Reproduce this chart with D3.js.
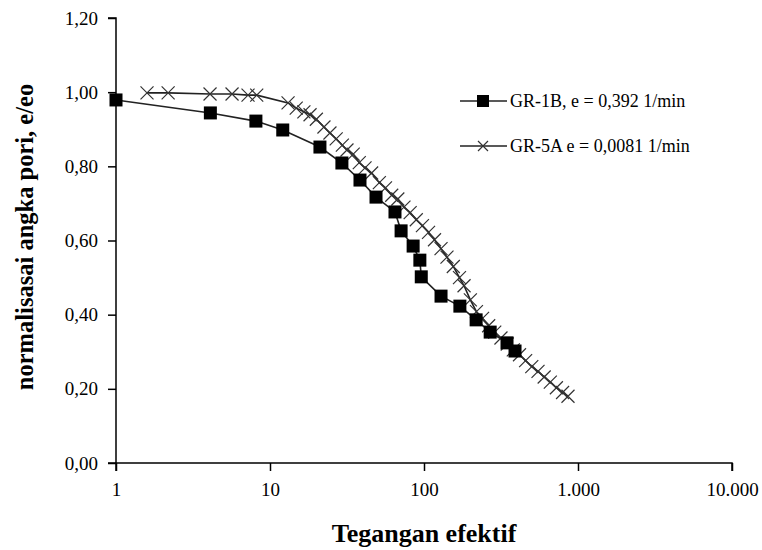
<!DOCTYPE html>
<html lang="id">
<head>
<meta charset="UTF-8">
<title>Tegangan efektif vs e/eo</title>
<style>
body { margin: 0; background: #fff; }
svg { display: block; }
.axis path, .axis line { stroke: #000; stroke-width: 1.5px; }
.axis text { font-family: "Liberation Serif", "Times New Roman", serif; font-size: 19px; fill: #000; }
</style>
</head>
<body>
<svg id="chart" width="762" height="550"></svg>
<script src="https://cdn.jsdelivr.net/npm/d3@7"></script>
<script>
// GR-1B (square markers)
var gr1bStress = [1, 4.1, 8.1, 12.1, 21.1, 29.3, 38.4, 48.8, 64.8, 71, 85, 94, 96, 129, 171, 218, 269, 346, 390];
var gr1bRatio = [0.979, 0.944, 0.922, 0.898, 0.852, 0.809, 0.763, 0.717, 0.677, 0.626, 0.585, 0.547, 0.502, 0.450, 0.423, 0.386, 0.353, 0.324, 0.302];

// GR-5A (cross markers)
var gr5aStress = [1.59, 2.18, 4.08, 5.67, 7.2, 8.2, 13.1, 14.8, 16.6, 18.2, 20.0, 22.4, 24.5, 26.9, 29.5, 31.6,
  34.7, 38.0, 41.4, 45.7, 51.3, 56.2, 61.7, 67.6, 74.1, 81.3, 89.1, 97.7, 107, 117, 129, 141, 155, 170, 182,
  200, 219, 240, 263, 288, 316, 347, 380, 417, 457, 501, 550, 603, 661, 724, 794, 861];
var gr5aRatio = [0.998, 0.998, 0.995, 0.995, 0.992, 0.992, 0.971, 0.957, 0.947, 0.939, 0.927, 0.906, 0.890, 0.874, 0.857, 0.844,
  0.833, 0.810, 0.796, 0.782, 0.756, 0.742, 0.722, 0.712, 0.690, 0.675, 0.656, 0.640, 0.622, 0.602, 0.578, 0.555, 0.530, 0.500, 0.478,
  0.440, 0.408, 0.390, 0.370, 0.353, 0.337, 0.321, 0.305, 0.292, 0.276, 0.260, 0.247, 0.232, 0.218, 0.203, 0.190, 0.180];

var xTicks = [1, 10, 100, 1000, 10000];
var xTickLabels = ["1", "10", "100", "1.000", "10.000"];
var yTicks = [0, 0.2, 0.4, 0.6, 0.8, 1.0, 1.2];
var yTickLabels = ["0,00", "0,20", "0,40", "0,60", "0,80", "1,00", "1,20"];

var legendLabels = ["GR-1B, e = 0,392 1/min", "GR-5A e = 0,0081 1/min"];

var svg = d3.select("#chart");

var x = d3.scaleLog().domain([1, 10000]).range([116, 732]);
var y = d3.scaleLinear().domain([0, 1.2]).range([463, 18]);

// axes
svg.append("g")
  .attr("class", "axis")
  .attr("transform", "translate(0,463)")
  .call(d3.axisBottom(x).tickValues(xTicks).tickSize(8).tickPadding(12)
    .tickFormat(function(d, i) { return xTickLabels[i]; }))
  .call(function(g) { g.select(".domain").attr("d", "M116,8V0H732V8"); });

svg.append("g")
  .attr("class", "axis")
  .attr("transform", "translate(116,0)")
  .call(d3.axisLeft(y).tickValues(yTicks).tickSize(8).tickPadding(10)
    .tickFormat(function(d, i) { return yTickLabels[i]; }))
  .call(function(g) { g.select(".domain").attr("d", "M-8,18H0V463H-8"); });

var line = d3.line()
  .x(function(d) { return x(d[0]); })
  .y(function(d) { return y(d[1]); });

var gr1b = d3.zip(gr1bStress, gr1bRatio);
var gr5a = d3.zip(gr5aStress, gr5aRatio);

var crossPath = "M-6.5,-6.5L6.5,6.5M-6.5,6.5L6.5,-6.5";

// GR-5A
svg.append("path").datum(gr5a).attr("d", line)
  .attr("fill", "none").attr("stroke", "#222").attr("stroke-width", 1.6);
svg.selectAll(".cross").data(gr5a).enter().append("path")
  .attr("class", "cross")
  .attr("transform", function(d) { return "translate(" + x(d[0]) + "," + y(d[1]) + ")"; })
  .attr("d", crossPath)
  .attr("fill", "none").attr("stroke", "#333").attr("stroke-width", 1.2);

// GR-1B
svg.append("path").datum(gr1b).attr("d", line)
  .attr("fill", "none").attr("stroke", "#222").attr("stroke-width", 1.6);
svg.selectAll(".sq").data(gr1b).enter().append("rect")
  .attr("class", "sq")
  .attr("x", function(d) { return x(d[0]) - 6.5; })
  .attr("y", function(d) { return y(d[1]) - 6.5; })
  .attr("width", 13).attr("height", 13)
  .attr("fill", "#000");

// legend
var leg = svg.append("g").attr("transform", "translate(460,101)");
leg.append("line").attr("x1", 0).attr("x2", 47).attr("y1", 0).attr("y2", 0)
  .attr("stroke", "#222").attr("stroke-width", 1.6);
leg.append("rect").attr("x", 17).attr("y", -6).attr("width", 12).attr("height", 12).attr("fill", "#000");
leg.append("line").attr("x1", 0).attr("x2", 47).attr("y1", 45).attr("y2", 45)
  .attr("stroke", "#222").attr("stroke-width", 1.6);
leg.append("path").attr("transform", "translate(23,45)").attr("d", "M-5,-5L5,5M-5,5L5,-5")
  .attr("fill", "none").attr("stroke", "#333").attr("stroke-width", 1.2);
leg.selectAll("text").data(legendLabels).enter().append("text")
  .attr("x", 50).attr("y", function(d, i) { return i * 45 + 6; })
  .attr("font-family", "Liberation Serif, Times New Roman, serif")
  .attr("font-size", 18)
  .text(function(d) { return d; });

// axis titles
svg.append("text")
  .attr("x", 424).attr("y", 542)
  .attr("text-anchor", "middle")
  .attr("font-family", "Liberation Serif, Times New Roman, serif")
  .attr("font-weight", "bold").attr("font-size", 26)
  .text("Tegangan efektif");

svg.append("text")
  .attr("transform", "translate(33,237) rotate(-90)")
  .attr("text-anchor", "middle")
  .attr("font-family", "Liberation Serif, Times New Roman, serif")
  .attr("font-weight", "bold").attr("font-size", 24.5)
  .text("normalisasai angka pori, e/eo");
</script>
</body>
</html>
